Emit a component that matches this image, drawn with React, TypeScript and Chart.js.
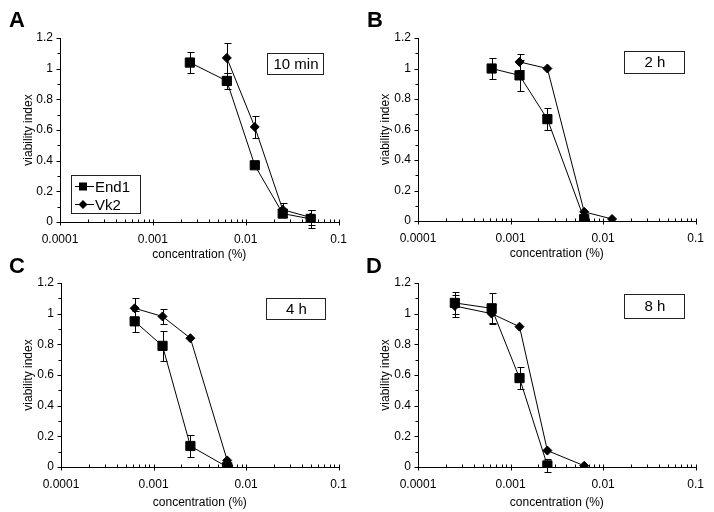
import React, { useEffect, useRef } from 'react';
import { Chart, registerables } from 'chart.js';

Chart.register(...registerables);

const FONT = '"Liberation Sans", Arial, Helvetica, sans-serif';

// Axis ticks
const xTickValues = [0.0001, 0.001, 0.01, 0.1];
const xTickLabels = ['0.0001', '0.001', '0.01', '0.1'];
const xMinorMultipliers = [2, 3, 4, 5, 6, 7, 8, 9];
const yTickValues = [0, 0.2, 0.4, 0.6, 0.8, 1, 1.2];
const yTickLabels = ['0', '0.2', '0.4', '0.6', '0.8', '1', '1.2'];
const xTitle = 'concentration (%)';
const yTitle = 'viability index';
const seriesNames = ['End1', 'Vk2'];

// Panel A – 10 min
const concA_End1 = [0.0025, 0.00625, 0.0125, 0.025, 0.05];
const valA_End1 = [1.04, 0.92, 0.37, 0.055, 0.02];
const errA_End1 = [0.07, 0.05, 0.02, 0.02, 0.06];
const concA_Vk2 = [0.00625, 0.0125, 0.025, 0.05];
const valA_Vk2 = [1.07, 0.62, 0.08, 0.03];
const errA_Vk2 = [0.1, 0.07, 0.045, 0.05];

// Panel B – 2 h
const concB_End1 = [0.000625, 0.00125, 0.0025, 0.00625];
const valB_End1 = [1.0, 0.955, 0.668, 0.013];
const errB_End1 = [0.07, 0.1, 0.07, 0.0];
const concB_Vk2 = [0.00125, 0.0025, 0.00625, 0.0125];
const valB_Vk2 = [1.043, 1.0, 0.06, 0.013];
const errB_Vk2 = [0.05, 0.0, 0.0, 0.0];

// Panel C – 4 h
const concC_End1 = [0.000625, 0.00125, 0.0025, 0.00625];
const valC_End1 = [0.95, 0.79, 0.137, 0.0];
const errC_End1 = [0.07, 0.1, 0.07, 0.0];
const concC_Vk2 = [0.000625, 0.00125, 0.0025, 0.00625];
const valC_Vk2 = [1.035, 0.982, 0.84, 0.043];
const errC_Vk2 = [0.065, 0.05, 0.0, 0.0];

// Panel D – 8 h
const concD_End1 = [0.00025, 0.000625, 0.00125, 0.0025];
const valD_End1 = [1.07, 1.035, 0.58, 0.01];
const errD_End1 = [0.07, 0.1, 0.07, 0.04];
const concD_Vk2 = [0.00025, 0.000625, 0.00125, 0.0025, 0.00625];
const valD_Vk2 = [1.05, 1.0, 0.915, 0.107, 0.008];
const errD_Vk2 = [0.07, 0.06, 0.0, 0.0, 0.0];

const panelTitles = ['10 min', '2 h', '4 h', '8 h'];
const panelLetters = ['A', 'B', 'C', 'D'];

const toPoints = (xs: number[], ys: number[]) => xs.map((x, i) => ({ x, y: ys[i] }));

const decoPlugin = {
  id: 'deco',
  beforeDatasetsDraw(chart: any) {
    const ctx = chart.ctx;
    const ys = chart.scales.y;
    ctx.save();
    ctx.strokeStyle = '#000';
    ctx.lineWidth = 1;
    chart.data.datasets.forEach((ds: any, i: number) => {
      const meta = chart.getDatasetMeta(i);
      const errs: number[] = ds.errors || [];
      meta.data.forEach((pt: any, j: number) => {
        const e = errs[j];
        if (!e) return;
        const v = ds.data[j].y;
        const x = Math.round(pt.x) + 0.5;
        const t = Math.round(ys.getPixelForValue(v + e)) + 0.5;
        const b = Math.round(ys.getPixelForValue(v - e)) + 0.5;
        ctx.beginPath();
        ctx.moveTo(x, t);
        ctx.lineTo(x, b);
        ctx.moveTo(x - 3, t);
        ctx.lineTo(x + 4, t);
        ctx.moveTo(x - 3, b);
        ctx.lineTo(x + 4, b);
        ctx.stroke();
      });
    });
    ctx.restore();
  },
  afterDraw(chart: any, _args: any, opts: any) {
    const ctx = chart.ctx;
    const xs = chart.scales.x;
    const ys = chart.scales.y;
    const area = chart.chartArea;
    ctx.save();
    ctx.strokeStyle = '#000';
    ctx.lineWidth = 1;
    ctx.beginPath();
    const axisY = Math.round(area.bottom) + 0.5;
    // x ticks
    xTickValues.forEach((d, k) => {
      const px = Math.round(xs.getPixelForValue(d)) + 0.5;
      ctx.moveTo(px, axisY - 3);
      ctx.lineTo(px, axisY + 3);
      if (k < xTickValues.length - 1) {
        xMinorMultipliers.forEach((m) => {
          const mx = Math.round(xs.getPixelForValue(d * m)) + 0.5;
          ctx.moveTo(mx, axisY - 3);
          ctx.lineTo(mx, axisY);
        });
      }
    });
    // y ticks
    const axisX = Math.round(area.left) + 0.5;
    yTickValues.forEach((v: number, k: number) => {
      const py = Math.round(ys.getPixelForValue(v)) + 0.5;
      ctx.moveTo(axisX - 4, py);
      ctx.lineTo(axisX, py);
      if (k < yTickValues.length - 1) {
        const mv = (v + yTickValues[k + 1]) / 2;
        const my = Math.round(ys.getPixelForValue(mv)) + 0.5;
        ctx.moveTo(axisX - 3, my);
        ctx.lineTo(axisX, my);
      }
    });
    ctx.stroke();

    // panel letter
    ctx.fillStyle = '#000';
    ctx.font = `bold 22px ${FONT}`;
    ctx.textAlign = 'center';
    ctx.textBaseline = 'middle';
    ctx.fillText(opts.letter, opts.letterPos[0], opts.letterPos[1]);

    // time box
    const [bx1, by1, bx2, by2] = opts.box;
    ctx.fillStyle = '#fff';
    ctx.fillRect(bx1, by1, bx2 - bx1, by2 - by1);
    ctx.strokeStyle = '#222';
    ctx.strokeRect(bx1 + 0.5, by1 + 0.5, bx2 - bx1, by2 - by1);
    ctx.fillStyle = '#000';
    ctx.font = `15px ${FONT}`;
    ctx.fillText(opts.title, (bx1 + bx2) / 2 + 1, (by1 + by2) / 2 + 1);

    // legend
    if (opts.legend) {
      const [lx1, ly1, lx2, ly2] = opts.legend;
      ctx.fillStyle = '#fff';
      ctx.fillRect(lx1, ly1, lx2 - lx1, ly2 - ly1);
      ctx.strokeStyle = '#222';
      ctx.strokeRect(lx1 + 0.5, ly1 + 0.5, lx2 - lx1, ly2 - ly1);
      const rows = [ly1 + 10.5, ly1 + 28.5];
      ctx.strokeStyle = '#000';
      ctx.fillStyle = '#000';
      ctx.textAlign = 'left';
      ctx.font = `15px ${FONT}`;
      seriesNames.forEach((name, i) => {
        const y = Math.round(rows[i]) + 0.5;
        ctx.beginPath();
        ctx.moveTo(lx1 + 4, y);
        ctx.lineTo(lx1 + 23, y);
        ctx.stroke();
        const cx = lx1 + 12;
        ctx.beginPath();
        if (i === 0) {
          ctx.rect(cx - 4, y - 4, 8, 8);
        } else {
          ctx.moveTo(cx - 4.5, y);
          ctx.lineTo(cx, y - 4.5);
          ctx.lineTo(cx + 4.5, y);
          ctx.lineTo(cx, y + 4.5);
          ctx.closePath();
        }
        ctx.fill();
        ctx.fillText(name, lx1 + 24, y + 1);
      });
    }
    ctx.restore();
  },
};

type PanelCfg = {
  left: number;
  top: number;
  width: number;
  height: number;
  padTop: number;
  padRight: number;
  yWidth: number;
  xHeight: number;
  xTitlePadBottom: number;
  letterPos: [number, number];
  box: [number, number, number, number];
  legend?: [number, number, number, number];
  idx: number;
  end1: { x: number[]; y: number[]; e: number[] };
  vk2: { x: number[]; y: number[]; e: number[] };
};

function Panel({ cfg }: { cfg: PanelCfg }) {
  const ref = useRef<HTMLCanvasElement>(null);
  useEffect(() => {
    const tickFont = { family: FONT, size: 12 };
    const chart = new Chart(ref.current as HTMLCanvasElement, {
      type: 'line',
      data: {
        datasets: [
          {
            label: seriesNames[0],
            data: toPoints(cfg.end1.x, cfg.end1.y),
            errors: cfg.end1.e,
            borderColor: '#000',
            backgroundColor: '#000',
            borderWidth: 1,
            pointStyle: 'rect',
            pointRadius: 6.5,
            pointBorderWidth: 1,
            pointBorderColor: '#000',
            pointBackgroundColor: '#000',
            tension: 0,
          } as any,
          {
            label: seriesNames[1],
            data: toPoints(cfg.vk2.x, cfg.vk2.y),
            errors: cfg.vk2.e,
            borderColor: '#000',
            backgroundColor: '#000',
            borderWidth: 1,
            pointStyle: 'rectRot',
            pointRadius: 4.5,
            pointBorderWidth: 1,
            pointBorderColor: '#000',
            pointBackgroundColor: '#000',
            tension: 0,
          } as any,
        ],
      },
      options: {
        responsive: false,
        animation: false,
        events: [],
        layout: { padding: { top: cfg.padTop, right: cfg.padRight, left: 0, bottom: 0 } },
        plugins: {
          legend: { display: false },
          tooltip: { enabled: false },
          deco: {
            letter: panelLetters[cfg.idx],
            letterPos: cfg.letterPos,
            title: panelTitles[cfg.idx],
            box: cfg.box,
            legend: cfg.legend,
          },
        } as any,
        scales: {
          x: {
            type: 'logarithmic',
            min: xTickValues[0],
            max: xTickValues[xTickValues.length - 1],
            grid: { display: false, drawTicks: false },
            border: { display: true, color: '#000', width: 1 },
            afterBuildTicks: (s: any) => {
              s.ticks = xTickValues.map((v) => ({ value: v, major: true }));
            },
            afterFit: (s: any) => {
              s.height = cfg.xHeight;
            },
            ticks: {
              autoSkip: false,
              maxRotation: 0,
              padding: 10,
              color: '#000',
              font: tickFont,
              callback: (_v: any, i: number) => xTickLabels[i],
            },
            title: {
              display: true,
              text: xTitle,
              color: '#000',
              font: tickFont,
              padding: { top: 0, bottom: cfg.xTitlePadBottom },
            },
          },
          y: {
            type: 'linear',
            min: yTickValues[0],
            max: yTickValues[yTickValues.length - 1],
            grid: { display: false, drawTicks: false },
            border: { display: true, color: '#000', width: 1 },
            afterBuildTicks: (s: any) => {
              s.ticks = yTickValues.map((v) => ({ value: v }));
            },
            afterFit: (s: any) => {
              s.width = cfg.yWidth;
            },
            ticks: {
              padding: 7,
              color: '#000',
              font: tickFont,
              callback: (_v: any, i: number) => yTickLabels[i],
            },
            title: {
              display: true,
              text: yTitle,
              color: '#000',
              font: tickFont,
              padding: { top: 21, bottom: 0 },
            },
          },
        } as any,
      },
      plugins: [decoPlugin as any],
    });
    return () => chart.destroy();
  }, []);
  return (
    <div style={{ position: 'absolute', left: cfg.left, top: cfg.top, width: cfg.width, height: cfg.height }}>
      <canvas ref={ref} width={cfg.width} height={cfg.height} style={{ display: 'block' }} />
    </div>
  );
}

const panels: PanelCfg[] = [
  {
    idx: 0, left: 0, top: 0, width: 357, height: 262,
    padTop: 38, padRight: 17, yWidth: 60, xHeight: 40, xTitlePadBottom: 0,
    letterPos: [17, 21], box: [267, 53, 323, 74], legend: [71, 175, 140, 213],
    end1: { x: concA_End1, y: valA_End1, e: errA_End1 },
    vk2: { x: concA_Vk2, y: valA_Vk2, e: errA_Vk2 },
  },
  {
    idx: 1, left: 357, top: 0, width: 357, height: 262,
    padTop: 38, padRight: 16, yWidth: 61, xHeight: 41, xTitlePadBottom: 1,
    letterPos: [18, 21], box: [267, 51, 327, 73],
    end1: { x: concB_End1, y: valB_End1, e: errB_End1 },
    vk2: { x: concB_Vk2, y: valB_Vk2, e: errB_Vk2 },
  },
  {
    idx: 2, left: 0, top: 250, width: 357, height: 262,
    padTop: 33, padRight: 16, yWidth: 61, xHeight: 45, xTitlePadBottom: 2,
    letterPos: [17, 17], box: [266, 48, 325, 69],
    end1: { x: concC_End1, y: valC_End1, e: errC_End1 },
    vk2: { x: concC_Vk2, y: valC_Vk2, e: errC_Vk2 },
  },
  {
    idx: 3, left: 357, top: 250, width: 357, height: 262,
    padTop: 33, padRight: 16, yWidth: 61, xHeight: 45, xTitlePadBottom: 2,
    letterPos: [17, 17], box: [267, 44, 327, 68],
    end1: { x: concD_End1, y: valD_End1, e: errD_End1 },
    vk2: { x: concD_Vk2, y: valD_Vk2, e: errD_Vk2 },
  },
];

export default function App() {
  return (
    <div style={{ position: 'absolute', left: 0, top: 0, width: 714, height: 512, background: '#fff' }}>
      {panels.map((p) => (
        <Panel key={p.idx} cfg={p} />
      ))}
    </div>
  );
}
